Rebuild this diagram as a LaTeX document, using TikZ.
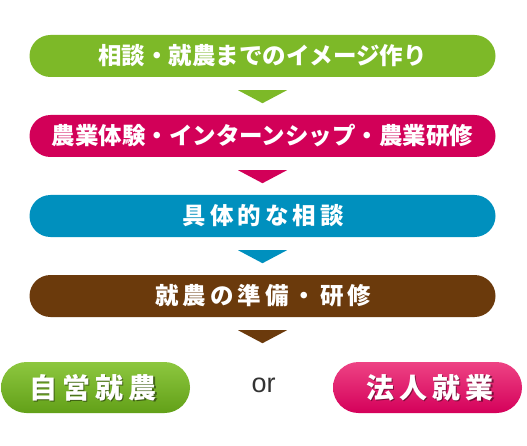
\documentclass[tikz,border=0pt]{standalone}
\usepackage{fontspec}
\newfontfamily\jp{Noto Sans CJK JP}
\newfontfamily\jpsp{Noto Sans CJK JP}[LetterSpace=17]
\newfontfamily\jpbig{Noto Sans CJK JP}[LetterSpace=18]
\newfontfamily\latin{Liberation Sans}
\definecolor{cgreen}{HTML}{7DB928}
\definecolor{ccrim}{HTML}{D20058}
\definecolor{cblue}{HTML}{0090BE}
\definecolor{cbrown}{HTML}{6B3A0C}
\definecolor{ggtop}{HTML}{8DC73F}
\definecolor{ggbot}{HTML}{62A018}
\definecolor{pktop}{HTML}{EE4384}
\definecolor{pkbot}{HTML}{D4005A}
\definecolor{ortext}{HTML}{333333}
\tikzset{
  stepbox/.style={rectangle, rounded corners=21pt, minimum width=466pt, minimum height=42pt,
    inner sep=0pt, text=white, font=\jp\bfseries\fontsize{23.5}{24}\selectfont},
  endbox/.style={rectangle, rounded corners=25.5pt, minimum width=189pt, minimum height=51pt,
    inner sep=0pt},
  endtext/.style={text=white, font=\jpbig\bfseries\fontsize{28}{30}\selectfont},
  endshadow/.style={text=black, opacity=0.45, font=\jpbig\bfseries\fontsize{28}{30}\selectfont},
}
\newcommand{\tri}[2]{%
  \fill[#2] ([yshift=-13pt]#1.south) ++(-24.5pt,0) -- ++(49pt,0) -- ++(-24.5pt,-13pt) -- cycle;}
\begin{document}
\begin{tikzpicture}[x=1pt,y=1pt]
\useasboundingbox (0,0) rectangle (527,445);
\node[stepbox, fill=cgreen] (b1) at (262.5,389) {相談・就農までのイメージ作り};
\node[stepbox, fill=ccrim] (b2) at (262.5,309) {農業体験・インターンシップ・農業研修};
\node[stepbox, fill=cblue, font=\jpsp\bfseries\fontsize{23.5}{24}\selectfont] (b3) at (262.5,229) {\hspace{1.5pt}具体的な相談};
\node[stepbox, fill=cbrown, font=\jpsp\bfseries\fontsize{23.5}{24}\selectfont] (b4) at (262.5,149) {\hspace{2pt}就農の準備・研修};
\tri{b1}{cgreen}
\tri{b2}{ccrim}
\tri{b3}{cblue}
\tri{b4}{cbrown}
\node[endbox, top color=ggtop, bottom color=ggbot] (e1) at (95.5,57.5) {};
\node[endbox, top color=pktop, bottom color=pkbot] (e2) at (427.5,57.5) {};
\node[endshadow] at ([xshift=-1pt,yshift=-1.5pt]e1.center) {自営就農};
\node[endtext] (t1) at ([xshift=-2.5pt]e1.center) {自営就農};
\node[endshadow] at ([xshift=4pt,yshift=-1.5pt]e2.center) {法人就業};
\node[endtext] (t2) at ([xshift=2.5pt]e2.center) {法人就業};
\node[text=ortext, font=\latin\fontsize{27}{28}\selectfont] (or) at (263.5,60) {or};
\end{tikzpicture}
\end{document}
